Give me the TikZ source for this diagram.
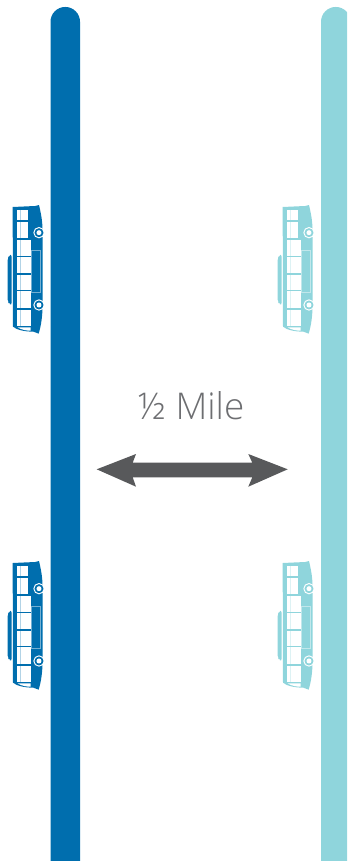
\documentclass[tikz,border=0pt]{standalone}
\usepackage{fontspec}
\setmainfont{Open Sans Light}
\definecolor{roadblue}{HTML}{006EAE}
\definecolor{roadteal}{HTML}{8FD5DC}
\definecolor{arrowgrey}{HTML}{58595B}
\definecolor{labelgrey}{HTML}{6D6E71}
% bus drawn in zoom units (3 units = 1 px), origin at top-left of the zoom crop
\tikzset{
  bus/.pic={
    \begin{scope}[x=0.3333bp,y=-0.3333bp]
      \fill[buscol] (38,36) -- (105,33) -- (117,30) .. controls (124,60) and (128,80) .. (128,120)
        -- (128,320) .. controls (128,360) and (124,390) .. (116,416) -- (100,410)
        .. controls (75,410) and (50,405) .. (39,395) -- cycle;
      \fill[buscol, rounded corners=2bp] (35,179) -- (27,181) -- (23,190) -- (23,320) -- (28,327) -- (35,329) -- cycle;
      \fill[white] (52,45) rectangle (84,75);
      \fill[white] (52,81) rectangle (84,128);
      \fill[white] (52,134) rectangle (92,183);
      \fill[white] (52,187) rectangle (92,235);
      \fill[white] (52,239) rectangle (92,285);
      \fill[white] (52,289) rectangle (92,340);
      \fill[white] (52,346) rectangle (92,393);
      \fill[white] (53,397) .. controls (65,405) and (80,407) .. (92,407) -- (92,397) -- cycle;
      \draw[buscol, line width=0.4bp, opacity=.3] (62,45) -- (62,128) (62,134) -- (62,393);
      \draw[white, opacity=.45, line width=0.5bp] (95,167) rectangle (122,292);
      \foreach \wy in {113,330}{
        \fill[white] (117,\wy) circle (17);
        \fill[buscol] (117,\wy) circle (13.5);
        \fill[white] (117,\wy) circle (7.5);
      }
    \end{scope}
  },
  doublearrow/.style={fill=arrowgrey},
  milelabel/.style={text=labelgrey, font=\fontsize{37}{37}\selectfont, inner sep=0pt}
}
\begin{document}
\begin{tikzpicture}[x=1bp,y=-1bp]
  \useasboundingbox (0,0) rectangle (347,861);
  \begin{scope}
    \clip (0,0) rectangle (347,861);
    \fill[roadblue] (50.5,880) -- (50.5,21.7) arc[start angle=180,end angle=360,radius=14.75] -- (80,880) -- cycle;
    \fill[roadteal] (321,880) -- (321,21.7) arc[start angle=180,end angle=360,radius=14.75] -- (350.5,880) -- cycle;
  \end{scope}
  \colorlet{buscol}{roadblue}
  \pic at (0,195) {bus};
  \pic at (0,551) {bus};
  \colorlet{buscol}{roadteal}
  \pic at (270,195) {bus};
  \pic at (270,551) {bus};
  \fill[doublearrow] (96.7,469.3) -- (136,454) -- (132.7,462.7) -- (252.3,462.7) -- (248.3,454)
    -- (287.7,469.3) -- (248.3,486.7) -- (252.3,477.3) -- (132.7,477.3) -- (136,486.7) -- cycle;
  \node[milelabel] (mile) at (191.5,405.5) {½ Mile};
\end{tikzpicture}
\end{document}
